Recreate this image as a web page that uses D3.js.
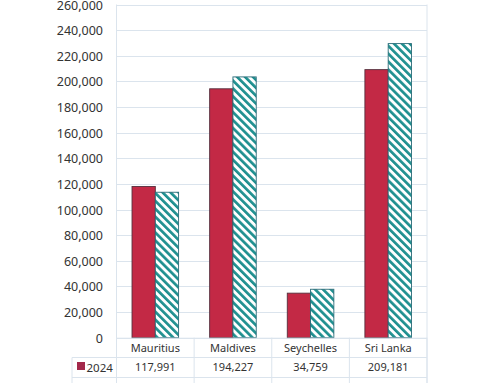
<!DOCTYPE html>
<html><head><meta charset="utf-8">
<script src="https://cdn.jsdelivr.net/npm/d3@7"></script>
<style>body{margin:0;background:#fff}svg{display:block}</style>
</head><body>
<script>
const categories = ["Mauritius","Maldives","Seychelles","Sri Lanka"];
const series2024 = [117991,194227,34759,209181];
const seriesOther = [113500,203500,37800,229500];
const tickValues = [0,20000,40000,60000,80000,100000,120000,140000,160000,180000,200000,220000,240000,260000];
const rowLabel = "2024";

const W=500,H=383;
const svg=d3.select("body").append("svg").attr("width",W).attr("height",H);
const font="'Noto Sans', sans-serif";
const grid="#dbe4ed";

const defs=svg.append("defs");
const pat=defs.append("pattern").attr("id","hatch").attr("patternUnits","userSpaceOnUse")
  .attr("width",5.6).attr("height",5.6).attr("patternTransform","rotate(-45)");
pat.append("rect").attr("width",5.6).attr("height",5.6).attr("fill","#fff");
pat.append("rect").attr("width",2.7).attr("height",5.6).attr("fill","#1f9090");

const x0=116.5,x1=427,yTop=4.5,yZero=337.7;
const x=d3.scaleBand().domain(categories).range([x0,x1]).paddingInner(0.4).paddingOuter(0.2);
const sub=d3.scaleBand().domain(["a","b"]).range([0,x.bandwidth()]);
const y=d3.scaleLinear().domain([0,260000]).range([yZero,yTop]);

// gridlines
svg.append("g").selectAll("line").data(tickValues).join("line")
  .attr("x1",x0).attr("x2",x1).attr("y1",d=>Math.round(y(d))+0.5).attr("y2",d=>Math.round(y(d))+0.5)
  .attr("stroke",grid).attr("stroke-width",1);
// plot borders
[x0,x1].forEach(xx=>svg.append("line").attr("x1",xx).attr("x2",xx).attr("y1",y(260000)).attr("y2",H)
  .attr("stroke",grid));

// y axis labels via axis
const ax=svg.append("g").attr("transform",`translate(103,0)`).call(d3.axisLeft(y).tickValues(tickValues).tickSize(0).tickPadding(0).tickFormat(d3.format(",")));
ax.select(".domain").remove();
ax.selectAll("text").attr("font-family",font).attr("font-size",12.5).attr("fill","#333").attr("dy","0.36em");

// bars
const g=svg.append("g");
categories.forEach((c,i)=>{
  g.append("rect").attr("x",x(c)+sub("a")).attr("width",sub.bandwidth())
   .attr("y",y(series2024[i])).attr("height",yZero-y(series2024[i]))
   .attr("fill","#c32945").attr("stroke","#55303d").attr("stroke-width",0.9);
  g.append("rect").attr("x",x(c)+sub("b")).attr("width",sub.bandwidth())
   .attr("y",y(seriesOther[i])).attr("height",yZero-y(seriesOther[i]))
   .attr("fill","url(#hatch)").attr("stroke","#2a6c78").attr("stroke-width",0.9);
});

// data table
const step=x.step();
const colEdges=categories.map((c,i)=>x0+i*step).concat([x1]);
const r0=yZero,r1=357.5,r2=377.5;
const t=svg.append("g");
// horizontal lines
t.append("line").attr("x1",x0).attr("x2",x1).attr("y1",r0+0.5).attr("y2",r0+0.5).attr("stroke",grid);
[r1,r2].forEach(yy=>t.append("line").attr("x1",72).attr("x2",x1).attr("y1",yy).attr("y2",yy).attr("stroke",grid));
// vertical
colEdges.forEach(xx=>t.append("line").attr("x1",xx).attr("x2",xx).attr("y1",r0).attr("y2",H).attr("stroke",grid));
t.append("line").attr("x1",72).attr("x2",72).attr("y1",r1).attr("y2",H).attr("stroke",grid);

t.selectAll("text.cat").data(categories).join("text").attr("class","cat")
  .attr("x",d=>x(d)+x.bandwidth()/2).attr("y",(r0+r1)/2).attr("dy","0.36em")
  .attr("text-anchor","middle").attr("font-family",font).attr("font-size",11).attr("fill","#333").text(d=>d);
t.selectAll("text.val").data(series2024).join("text").attr("class","val")
  .attr("x",(d,i)=>x(categories[i])+x.bandwidth()/2).attr("y",(r1+r2)/2).attr("dy","0.36em")
  .attr("text-anchor","middle").attr("font-family",font).attr("font-size",11).attr("fill","#333").text(d=>d3.format(",")(d));
t.append("rect").attr("x",77).attr("y",362).attr("width",8).attr("height",8).attr("fill","#a3284a");
t.append("text").attr("x",86.5).attr("y",(r1+r2)/2).attr("dy","0.36em").attr("font-family",font)
  .attr("font-size",11.5).attr("fill","#333").text(rowLabel);
</script>
</body></html>
